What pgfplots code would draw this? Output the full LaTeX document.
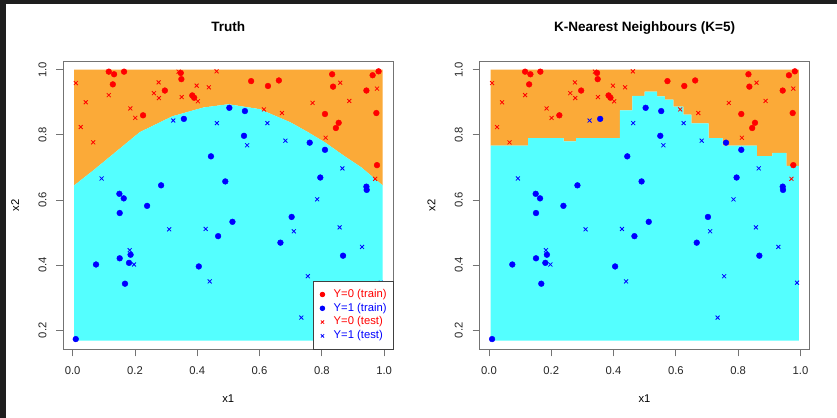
\documentclass[border=0pt]{standalone}
\usepackage{pgfplots}
\pgfplotsset{compat=1.18}
\usepackage{pgfplotstable}
\usepackage{fontspec}
\setmainfont{Liberation Sans}
\definecolor{Rorange}{HTML}{FFA500}
\definecolor{Rcyan}{HTML}{00FFFF}
\definecolor{darkbg}{HTML}{1E1E1E}
\definecolor{Rred}{HTML}{FF0000}
\definecolor{Rblue}{HTML}{0000FF}
\definecolor{orangefill}{HTML}{FBAA38}
\colorlet{cyanfill}{Rcyan!67!white}

\pgfplotstableread{
x y
0.116 0.994
0.133 0.986
0.165 0.994
0.129 0.955
0.347 0.990
0.349 0.971
0.296 0.936
0.384 0.921
0.390 0.914
0.226 0.860
0.573 0.965
0.627 0.950
0.662 0.967
0.833 0.986
0.836 0.948
0.963 0.983
0.982 0.995
0.943 0.936
0.975 0.867
0.810 0.864
0.854 0.837
0.845 0.821
0.977 0.707
}\trainzero

\pgfplotstableread{
x y
0.357 0.849
0.503 0.883
0.553 0.873
0.550 0.797
0.444 0.734
0.490 0.657
0.284 0.645
0.150 0.619
0.164 0.605
0.239 0.582
0.151 0.560
0.513 0.533
0.467 0.489
0.761 0.776
0.810 0.754
0.795 0.669
0.943 0.641
0.944 0.631
0.703 0.548
0.667 0.469
0.868 0.429
0.151 0.421
0.186 0.432
0.181 0.407
0.075 0.402
0.405 0.396
0.168 0.343
0.010 0.173
}\trainone

\pgfplotstableread{
x y
0.010 0.959
0.042 0.900
0.116 0.922
0.026 0.824
0.066 0.777
0.185 0.881
0.201 0.852
0.261 0.928
0.276 0.961
0.277 0.913
0.340 0.994
0.350 0.916
0.398 0.951
0.402 0.903
0.437 0.946
0.462 0.995
0.859 0.960
0.977 0.942
0.888 0.904
0.770 0.898
0.614 0.878
0.672 0.867
0.812 0.791
0.971 0.665
}\testzero

\pgfplotstableread{
x y
0.323 0.844
0.463 0.836
0.093 0.666
0.625 0.836
0.560 0.768
0.683 0.782
0.866 0.697
0.785 0.602
0.310 0.510
0.427 0.511
0.183 0.446
0.197 0.402
0.440 0.350
0.710 0.504
0.857 0.516
0.929 0.456
0.755 0.366
0.734 0.239
0.989 0.346
}\testone

\pgfplotsset{
  rpanel/.style={
    scale only axis, width=330.5bp, height=288.7bp,
    xmin=-0.031, xmax=1.030, ymin=0.1404, ymax=1.0267,
    axis line style={black!55, line width=0.8bp},
    every tick/.style={black!55, line width=0.8bp},
    tick align=outside, major tick length=6.8bp,
    tick pos=left,
    xtick={0,0.2,0.4,0.6,0.8,1}, xticklabels={0.0,0.2,0.4,0.6,0.8,1.0},
    ytick={0.2,0.4,0.6,0.8,1}, yticklabels={0.2,0.4,0.6,0.8,1.0},
    /pgf/number format/assume math mode=true,
    ticklabel style={font=\fontsize{11.3}{13}\selectfont, text=black!85},
    xticklabel style={anchor=north, inner sep=0pt},
    yticklabel style={rotate=90, anchor=south, inner sep=0pt},
    xticklabel shift=9.5bp, yticklabel shift=9.5bp,
    xlabel={x1}, ylabel={x2},
    every axis x label/.style={at={(axis description cs:0.5,-0.1819)}, anchor=base, font=\fontsize{11.3}{13}\selectfont},
    every axis y label/.style={at={(axis description cs:-0.1331,0.5)}, anchor=base, rotate=90, font=\fontsize{11.3}{13}\selectfont},
    title style={at={(axis description cs:0.5,1)}, anchor=base, yshift=23.3bp, font=\bfseries\fontsize{13.6}{16}\selectfont},
    clip=false,
  },
  trainstyle/.style={only marks, mark=*, mark size=2.9bp},
  teststyle/.style={only marks, mark=x, mark size=2.8bp, line width=0.8bp},
}

\begin{document}
\begin{tikzpicture}
\path[use as bounding box] (0bp,0bp) rectangle (837bp,418bp);
\fill[darkbg] (0bp,0bp) rectangle (837bp,418bp);
\fill[white] (6bp,0bp) rectangle (837bp,414bp);

\begin{axis}[rpanel, at={(63bp,68.3bp)}, anchor=south west, title={Truth},
  legend style={at={(axis description cs:1,0)}, anchor=south east, draw=black!75, line width=0.8bp, fill=white,
    font=\fontsize{11.3}{13}\selectfont, inner xsep=6.5bp, inner ysep=8bp, row sep=3bp, column sep=9bp,
    nodes={inner sep=0pt, text height=8.2bp, text depth=2.6bp}},
  legend cell align=left,
  legend image code/.code={\draw[#1, mark size=2.3bp] plot coordinates {(0bp,0bp)};}]
\addplot[draw=none, fill=orangefill, forget plot] coordinates {
(0.005,1.0) (0.005,0.645) (0.065,0.690) (0.13,0.741) (0.215,0.808) (0.32,0.857) (0.42,0.884) (0.5,0.894) (0.6,0.879) (0.7,0.838) (0.756,0.808) (0.81,0.777) (0.863,0.741) (0.927,0.700) (0.995,0.645) (0.995,1.0)} -- cycle;
\addplot[draw=none, fill=cyanfill, forget plot] coordinates {
(0.005,0.168) (0.005,0.645) (0.065,0.690) (0.13,0.741) (0.215,0.808) (0.32,0.857) (0.42,0.884) (0.5,0.894) (0.6,0.879) (0.7,0.838) (0.756,0.808) (0.81,0.777) (0.863,0.741) (0.927,0.700) (0.995,0.645) (0.995,0.168)} -- cycle;
\addplot[trainstyle, color=Rred] table {\trainzero};
\addlegendentry{\textcolor{Rred}{Y=0 (train)}}
\addplot[trainstyle, color=Rblue] table {\trainone};
\addlegendentry{\textcolor{Rblue}{Y=1 (train)}}
\addplot[teststyle, color=Rred] table {\testzero};
\addlegendentry{\textcolor{Rred}{Y=0 (test)}}
\addplot[teststyle, color=Rblue] table {\testone};
\addlegendentry{\textcolor{Rblue}{Y=1 (test)}}
\end{axis}

\begin{axis}[rpanel, at={(479.3bp,68.3bp)}, anchor=south west, title={K-Nearest Neighbours (K=5)}]
\addplot[draw=none, fill=orangefill, forget plot] coordinates {
(0.005,1.0) (0.005,0.767) (0.126,0.767) (0.126,0.790) (0.24,0.790) (0.24,0.780) (0.28,0.780) (0.28,0.790) (0.42,0.790) (0.42,0.875) (0.46,0.875) (0.46,0.920) (0.50,0.920) (0.50,0.933) (0.54,0.933) (0.54,0.918) (0.565,0.918) (0.565,0.908) (0.592,0.908) (0.592,0.887) (0.624,0.887) (0.624,0.862) (0.65,0.862) (0.65,0.835) (0.705,0.835) (0.705,0.790) (0.75,0.790) (0.75,0.767) (0.86,0.767) (0.86,0.735) (0.91,0.735) (0.91,0.745) (0.955,0.745) (0.955,0.705) (0.995,0.705) (0.995,1.0)} -- cycle;
\addplot[draw=none, fill=cyanfill, forget plot] coordinates {
(0.005,0.168) (0.005,0.767) (0.126,0.767) (0.126,0.790) (0.24,0.790) (0.24,0.780) (0.28,0.780) (0.28,0.790) (0.42,0.790) (0.42,0.875) (0.46,0.875) (0.46,0.920) (0.50,0.920) (0.50,0.933) (0.54,0.933) (0.54,0.918) (0.565,0.918) (0.565,0.908) (0.592,0.908) (0.592,0.887) (0.624,0.887) (0.624,0.862) (0.65,0.862) (0.65,0.835) (0.705,0.835) (0.705,0.790) (0.75,0.790) (0.75,0.767) (0.86,0.767) (0.86,0.735) (0.91,0.735) (0.91,0.745) (0.955,0.745) (0.955,0.705) (0.995,0.705) (0.995,0.168)} -- cycle;
\addplot[trainstyle, color=Rred] table {\trainzero};
\addplot[trainstyle, color=Rblue] table {\trainone};
\addplot[teststyle, color=Rred] table {\testzero};
\addplot[teststyle, color=Rblue] table {\testone};
\end{axis}
\end{tikzpicture}
\end{document}
